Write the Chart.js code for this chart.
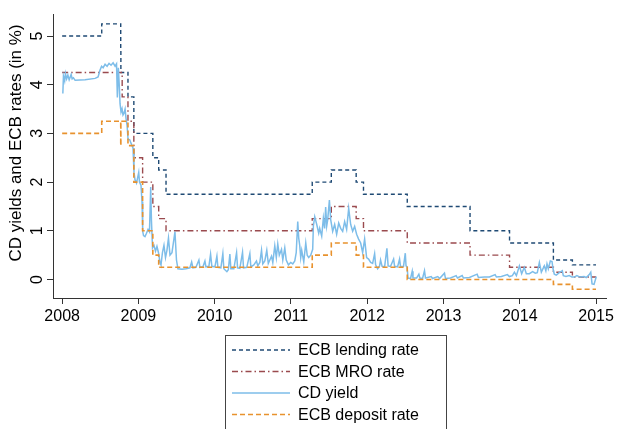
<!DOCTYPE html>
<html>
<head>
<meta charset="utf-8">
<script src="https://cdn.jsdelivr.net/npm/chart.js@4.4.1/dist/chart.umd.min.js"></script>
<style>
  html, body { margin: 0; padding: 0; background: #ffffff; }
  #wrap { width: 617px; height: 429px; position: relative; }
</style>
</head>
<body>
<div id="wrap"><canvas id="c" width="617" height="429"></canvas></div>
<script>
// ---------- DATA ----------
const xTickLabels = [2008, 2009, 2010, 2011, 2012, 2013, 2014, 2015];
const yTickLabels = [0, 1, 2, 3, 4, 5];
const yTitle = "CD yields and ECB rates (in %)";
const seriesNames = ["ECB lending rate", "ECB MRO rate", "CD yield", "ECB deposit rate"];

// ECB policy rate change dates (decimal years) and levels
const rateDates = [2008.000, 2008.519, 2008.768, 2008.770, 2008.787, 2008.863, 2008.940, 2009.055, 2009.189, 2009.266, 2009.362, 2011.279, 2011.529, 2011.855, 2011.951, 2012.525, 2013.348, 2013.866, 2014.441, 2014.690, 2015.000];
const lendingRate = [5.00, 5.25, 4.75, 4.25, 4.25, 3.75, 3.00, 3.00, 2.50, 2.25, 1.75, 2.00, 2.25, 2.00, 1.75, 1.50, 1.00, 0.75, 0.40, 0.30, 0.30];
const mroRate     = [4.25, 4.25, 4.25, 4.25, 3.75, 3.25, 2.50, 2.00, 1.50, 1.25, 1.00, 1.25, 1.50, 1.25, 1.00, 0.75, 0.50, 0.25, 0.15, 0.05, 0.05];
const depositRate = [3.00, 3.25, 2.75, 3.25, 3.25, 2.75, 2.00, 1.00, 0.50, 0.25, 0.25, 0.50, 0.75, 0.50, 0.25, 0.00, 0.00, 0.00, -0.10, -0.20, -0.20];

// CD yield (decimal years, %)
const cdDates = [
 2008.009,2008.017,2008.033,2008.043,2008.059,2008.075,2008.092,2008.118,2008.131,2008.148,
 2008.170,2008.301,2008.432,2008.471,2008.497,2008.517,2008.537,2008.563,2008.589,2008.615,
 2008.641,2008.668,2008.694,2008.713,2008.724,2008.737,2008.750,2008.759,2008.772,2008.785,
 2008.798,2008.812,2008.825,2008.838,2008.851,2008.864,2008.886,2008.903,2008.929,2008.942,
 2008.955,2008.975,2009.004,2009.014,2009.034,2009.047,2009.056,2009.067,2009.086,2009.106,
 2009.126,2009.145,2009.161,2009.171,2009.185,2009.204,2009.224,2009.243,2009.263,2009.283,
 2009.296,2009.315,2009.335,2009.355,2009.374,2009.394,2009.414,2009.440,2009.479,2009.499,
 2009.518,2009.571,2009.623,2009.675,2009.698,2009.715,2009.754,2009.793,2009.806,2009.846,
 2009.872,2009.885,2009.924,2009.946,2009.963,2010.003,2010.029,2010.042,2010.081,2010.107,
 2010.120,2010.160,2010.179,2010.199,2010.212,2010.251,2010.287,2010.300,2010.330,2010.365,
 2010.378,2010.421,2010.461,2010.474,2010.513,2010.548,2010.565,2010.592,2010.614,2010.631,
 2010.657,2010.683,2010.703,2010.723,2010.745,2010.762,2010.788,2010.808,2010.827,2010.847,
 2010.876,2010.893,2010.919,2010.938,2010.967,2010.997,2011.024,2011.050,2011.069,2011.089,
 2011.102,2011.115,2011.128,2011.141,2011.168,2011.194,2011.213,2011.233,2011.259,2011.285,
 2011.294,2011.312,2011.338,2011.364,2011.377,2011.403,2011.425,2011.442,2011.455,2011.469,
 2011.482,2011.504,2011.521,2011.547,2011.573,2011.599,2011.626,2011.652,2011.678,2011.704,
 2011.730,2011.757,2011.783,2011.809,2011.835,2011.861,2011.887,2011.914,2011.940,2011.966,
 2011.992,2012.018,2012.045,2012.071,2012.097,2012.110,2012.136,2012.162,2012.175,2012.195,
 2012.228,2012.258,2012.274,2012.306,2012.346,2012.359,2012.398,2012.424,2012.437,2012.476,
 2012.499,2012.509,2012.522,2012.535,2012.568,2012.590,2012.600,2012.647,2012.677,2012.690,
 2012.725,2012.751,2012.764,2012.839,2012.856,2012.925,2012.948,2013.013,2013.026,2013.092,
 2013.166,2013.183,2013.245,2013.262,2013.340,2013.441,2013.458,2013.537,2013.602,2013.677,
 2013.694,2013.759,2013.838,2013.864,2013.903,2013.930,2013.956,2013.995,2014.025,2014.060,
 2014.086,2014.126,2014.169,2014.204,2014.230,2014.257,2014.283,2014.322,2014.342,2014.357,
 2014.374,2014.401,2014.423,2014.436,2014.453,2014.479,2014.518,2014.558,2014.571,2014.606,
 2014.649,2014.684,2014.715,2014.749,2014.788,2014.843,2014.872,2014.911,2014.931,2014.948,
 2014.974,2015.004
];
const cdYield = [
 3.82,4.18,4.08,4.23,4.12,4.20,4.10,4.21,4.12,4.14,
 4.09,4.10,4.13,4.16,4.30,4.38,4.35,4.42,4.38,4.44,
 4.40,4.45,4.38,4.43,3.74,4.35,3.95,3.61,3.44,3.51,
 3.38,3.42,3.50,3.30,3.17,2.88,2.87,2.80,2.70,2.20,
 2.05,1.98,2.20,2.00,1.93,1.60,0.99,0.90,0.88,0.95,
 1.03,0.98,1.90,1.20,0.65,0.70,0.58,0.68,0.55,0.35,
 0.30,0.55,0.70,0.45,0.60,0.85,0.50,0.55,0.98,0.40,
 0.22,0.21,0.22,0.24,0.36,0.24,0.25,0.40,0.25,0.26,
 0.38,0.26,0.27,0.52,0.27,0.26,0.48,0.25,0.24,0.53,
 0.22,0.16,0.20,0.52,0.22,0.22,0.55,0.24,0.23,0.56,
 0.24,0.25,0.53,0.26,0.30,0.38,0.28,0.35,0.60,0.32,
 0.38,0.60,0.33,0.40,0.48,0.35,0.69,0.45,0.73,0.50,
 0.62,0.40,0.65,0.40,0.30,0.35,0.32,0.38,0.55,1.19,
 0.85,0.70,0.45,0.60,0.36,0.75,0.50,0.45,0.50,0.62,
 1.10,1.29,1.13,0.95,1.05,0.89,1.26,1.05,1.49,1.10,
 1.23,1.63,1.23,0.99,1.13,0.93,1.16,1.05,0.99,1.19,
 1.03,1.46,1.13,0.99,1.09,0.93,0.83,0.75,0.55,0.83,
 0.45,0.42,0.35,0.33,0.53,0.30,0.22,0.28,0.40,0.27,
 0.26,0.64,0.28,0.27,0.42,0.27,0.26,0.42,0.26,0.27,
 0.54,0.28,0.26,0.03,0.02,0.17,0.03,0.03,0.11,0.03,
 0.02,0.18,0.03,0.06,0.02,0.06,0.02,0.13,0.02,0.03,
 0.08,0.03,0.08,0.03,0.04,0.11,0.04,0.05,0.05,0.10,
 0.05,0.06,0.10,0.06,0.08,0.15,0.08,0.28,0.12,0.25,
 0.12,0.12,0.16,0.13,0.14,0.35,0.15,0.28,0.18,0.32,
 0.22,0.38,0.37,0.22,0.11,0.09,0.14,0.18,0.08,0.06,
 0.08,0.05,0.05,0.08,0.05,0.06,0.04,0.10,0.15,-0.09,
 -0.10,0.06
];

// ---------- CHART ----------
const axisColor = '#333333';
const FONT = '"Liberation Sans", Arial, Helvetica, sans-serif';

function pts(xs, ys) { return xs.map((x, i) => ({ x: x, y: ys[i] })); }

const dsStyles = [
  { color: '#1f4a74', dash: [4, 3], width: 1.4, stepped: 'before', order: 3 },
  { color: '#9a4a4e', dash: [6, 3, 1.5, 3], width: 1.4, stepped: 'before', order: 2 },
  { color: '#7dbde9', dash: [], width: 1.5, stepped: false, order: 1 },
  { color: '#e8922e', dash: [5, 3], width: 1.6, stepped: 'before', order: 0 }
];
const seriesData = [
  pts(rateDates, lendingRate),
  pts(rateDates, mroRate),
  pts(cdDates, cdYield),
  pts(rateDates, depositRate)
];

const datasets = seriesNames.map((name, i) => ({
  label: name,
  data: seriesData[i],
  borderColor: dsStyles[i].color,
  borderDash: dsStyles[i].dash,
  borderWidth: dsStyles[i].width,
  stepped: dsStyles[i].stepped,
  order: dsStyles[i].order,
  pointRadius: 0,
  tension: 0,
  fill: false
}));

const extrasPlugin = {
  id: 'extras',
  afterDraw(chart) {
    const ctx = chart.ctx;
    // Y axis title (rotated)
    ctx.save();
    ctx.fillStyle = '#000';
    ctx.font = '17px ' + FONT;
    ctx.translate(16, 143);
    ctx.rotate(-Math.PI / 2);
    ctx.textAlign = 'center';
    ctx.textBaseline = 'middle';
    ctx.fillText(yTitle, 0, 0);
    ctx.restore();

    // Legend box
    ctx.save();
    ctx.strokeStyle = '#444';
    ctx.lineWidth = 1;
    ctx.strokeRect(225.5, 335.5, 221, 110);
    const rowY = [350, 371.5, 393, 414.5];
    chart.data.datasets.forEach((ds, i) => {
      const y = rowY[i];
      ctx.beginPath();
      ctx.strokeStyle = ds.borderColor;
      ctx.lineWidth = ds.borderWidth;
      ctx.setLineDash(ds.borderDash);
      ctx.moveTo(232, y);
      ctx.lineTo(290, y);
      ctx.stroke();
      ctx.setLineDash([]);
      ctx.fillStyle = '#000';
      ctx.font = '16px ' + FONT;
      ctx.textAlign = 'left';
      ctx.textBaseline = 'middle';
      ctx.fillText(ds.label, 298, y + 1);
    });
    ctx.restore();
  }
};

new Chart(document.getElementById('c'), {
  type: 'line',
  data: { datasets: datasets },
  options: {
    responsive: false,
    animation: false,
    devicePixelRatio: 1,
    layout: { padding: { left: 0, top: 8, right: 9, bottom: 0 } },
    plugins: { legend: { display: false }, tooltip: { enabled: false } },
    scales: {
      x: {
        type: 'linear',
        min: 2007.88,
        max: 2015.14,
        afterBuildTicks: (s) => { s.ticks = xTickLabels.map(v => ({ value: v })); },
        afterFit: (s) => { s.height = 131; },
        grid: { display: true, drawOnChartArea: false, drawTicks: true, tickLength: 6, color: axisColor, lineWidth: 1 },
        border: { display: true, color: axisColor, width: 1 },
        ticks: {
          color: '#000',
          font: { family: FONT, size: 16 },
          padding: 3,
          maxRotation: 0,
          autoSkip: false,
          callback: (v) => String(v)
        }
      },
      y: {
        type: 'linear',
        min: -0.38,
        max: 5.44,
        afterBuildTicks: (s) => { s.ticks = yTickLabels.map(v => ({ value: v })); },
        afterFit: (s) => { s.width = 53; },
        grid: { display: true, drawOnChartArea: false, drawTicks: true, tickLength: 6, color: axisColor, lineWidth: 1 },
        border: { display: true, color: axisColor, width: 1 },
        ticks: {
          color: '#000',
          font: { family: FONT, size: 16 },
          padding: 5,
          minRotation: 90,
          maxRotation: 90,
          crossAlign: 'center',
          autoSkip: false,
          callback: (v) => String(v)
        }
      }
    }
  },
  plugins: [extrasPlugin]
});
</script>
</body>
</html>
